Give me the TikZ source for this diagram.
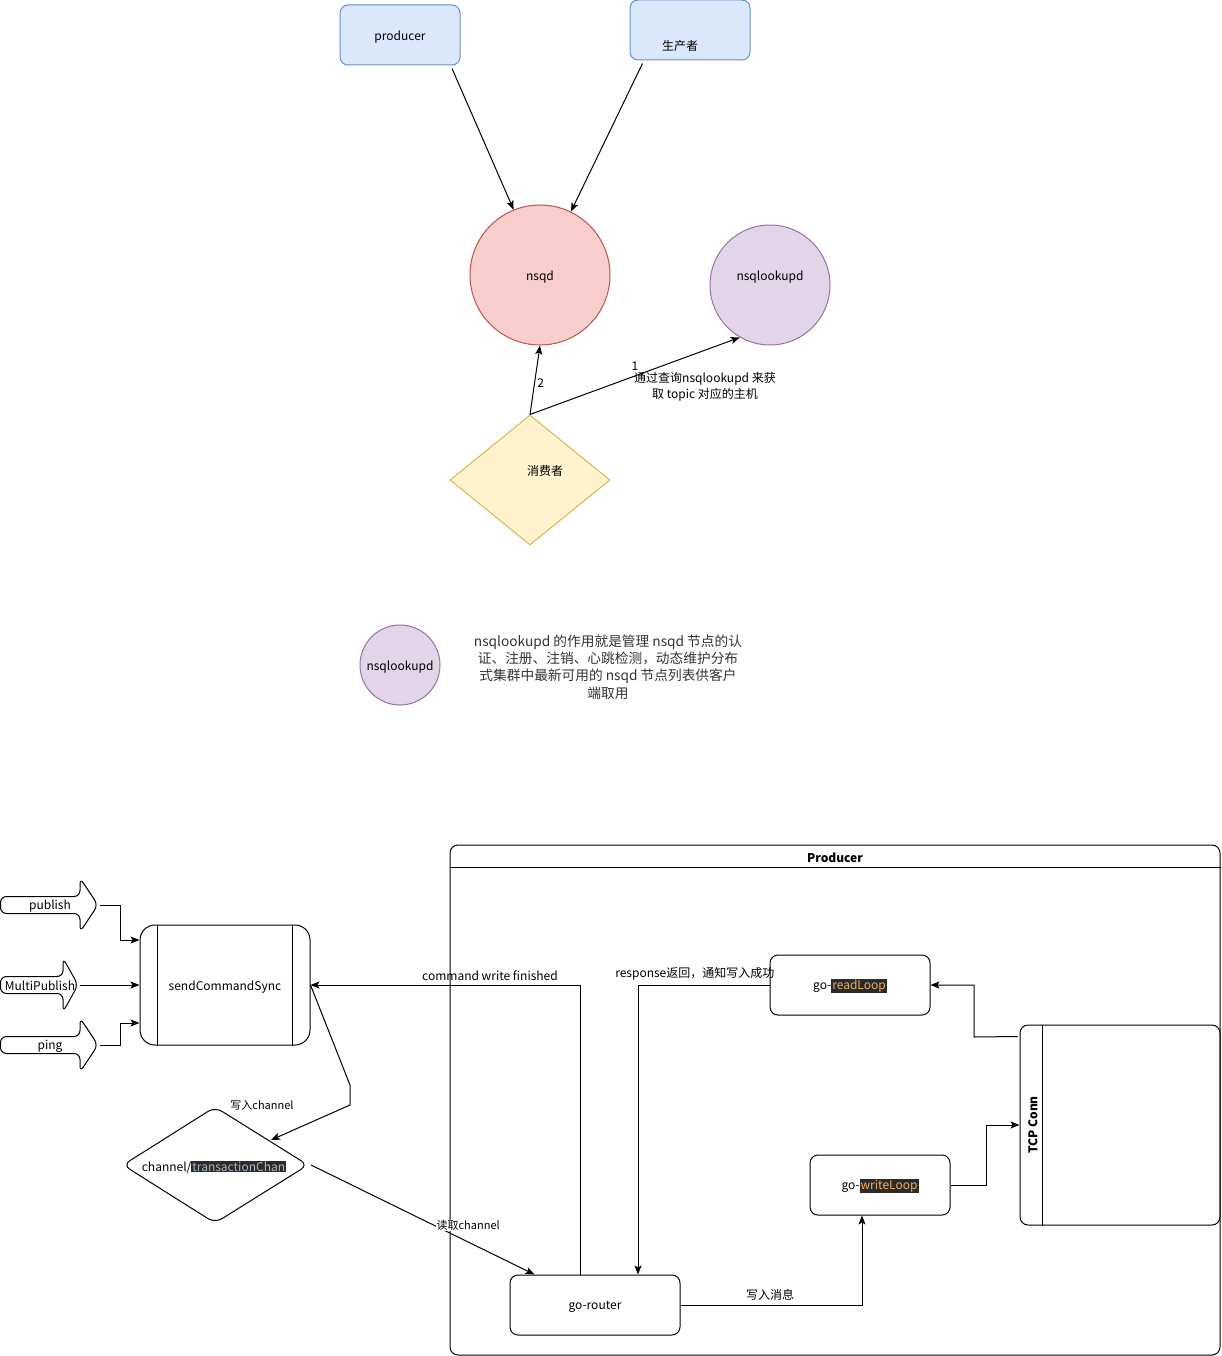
\documentclass[tikz,border=0pt]{standalone}
\usepackage{fontspec}
\setmainfont{Noto Sans CJK SC}
\usetikzlibrary{arrows.meta,calc,shapes.geometric}
\definecolor{bluef}{HTML}{DAE8FC}
\definecolor{blues}{HTML}{6C8EBF}
\definecolor{redf}{HTML}{F8CECC}
\definecolor{reds}{HTML}{B85450}
\definecolor{purf}{HTML}{E1D5E7}
\definecolor{purs}{HTML}{9673A6}
\definecolor{yelf}{HTML}{FFF2CC}
\definecolor{yels}{HTML}{D6B656}
\definecolor{codebg}{HTML}{2B2B2B}
\definecolor{codegray}{HTML}{A9B7C6}
\definecolor{codeorange}{HTML}{F0B25A}
\definecolor{paragray}{HTML}{333333}
\newcommand{\hlcode}[2]{{\setlength{\fboxsep}{1pt}\colorbox{codebg}{\textcolor{#1}{#2}}}}
\begin{document}
\begin{tikzpicture}[x=1pt,y=-1pt,line width=1pt,
  font=\fontsize{12pt}{15pt}\selectfont,
  bluebox/.style={draw=blues,fill=bluef,rounded corners=8pt,minimum width=120pt,minimum height=60pt,inner sep=0pt},
  rbox/.style={draw,rounded corners=8pt,inner sep=0pt},
  arr/.style={-{Stealth[length=9pt,width=7pt,inset=2pt]}},
  small/.style={font=\fontsize{11pt}{13pt}\selectfont},
  flex/.style={draw,rounded corners=6pt,line width=1pt}]
\useasboundingbox (0,0) rectangle (1221,1356);

% ---------- top part ----------
\node[bluebox,label={[yshift=-2pt]center:producer}] (prod) at (400,35) {};
\node[bluebox,label={[xshift=-10pt,yshift=-16pt]center:生产者}] (sc) at (690,30) {};
\node[circle,draw=reds,fill=redf,minimum size=140pt,inner sep=0pt,label={[yshift=-2pt]center:nsqd}] (nsqd) at (540,275) {};
\node[circle,draw=purs,fill=purf,minimum size=120pt,inner sep=0pt,label={[yshift=8pt]center:nsqlookupd}] (look) at (770,285) {};
\node[diamond,draw=yels,fill=yelf,minimum width=160pt,minimum height=130pt,inner sep=0pt,
      label={[xshift=15pt,yshift=9pt]center:消费者}] (cons) at (530,480) {};

\draw[arr] ($(prod.south)+(52,3)$) -- (nsqd.112);
\draw[arr] ($(sc.south west)+(13,3)$) -- (nsqd.64);
\draw[arr] (cons.north) -- node[pos=0.45,right=-1pt] {2} (nsqd.south);
\draw[arr] (cons.north) -- (look.240);
\node at (635,366) {1};
\node[align=center,font=\fontsize{12pt}{16pt}\selectfont] (lbl1) at (705,387) {通过查询nsqlookupd 来获\\取 topic 对应的主机};

\node[circle,draw=purs,fill=purf,minimum size=80pt,inner sep=0pt,label={[yshift=-2pt]center:nsqlookupd}] (look2) at (400,665) {};
\node[align=center,text=paragray,font=\fontsize{13.7pt}{17.3pt}\selectfont] (para) at (608,667)
  {nsqlookupd 的作用就是管理 nsqd 节点的认\\证、注册、注销、心跳检测，动态维护分布\\式集群中最新可用的 nsqd 节点列表供客户\\端取用};

% ---------- bottom part ----------
% Producer container
\node[rbox,minimum width=770pt,minimum height=510pt] (cont) at (835,1100) {};
\draw ($(cont.north west)+(0,23)$) -- ($(cont.north east)+(0,23)$);
\node[font=\fontsize{12pt}{15pt}\selectfont\bfseries] (conttitle) at (835,858) {Producer};

% sendCommandSync
\node[rbox,rounded corners=15pt,minimum width=170pt,minimum height=120pt,label={[yshift=-2pt]center:sendCommandSync}] (scs) at (225,985) {};
\draw ($(scs.north west)+(18,0)$) -- ($(scs.south west)+(18,0)$);
\draw ($(scs.north east)+(-18,0)$) -- ($(scs.south east)+(-18,0)$);

% flex arrows
\draw[flex] (0.5,896.5) -- (80,896.5) -- (80,878) -- (98,905) -- (80,932) -- (80,913.5) -- (0.5,913.5) -- cycle;
\node (pubtxt) at (50,906) {publish};
\coordinate (pub) at (100,905);
\draw[flex] (0.5,976.5) -- (63,976.5) -- (63,958) -- (78,985) -- (63,1012) -- (63,993.5) -- (0.5,993.5) -- cycle;
\node (mptxt) at (40,986) {MultiPublish};
\coordinate (mp) at (80,985);
\draw[flex] (0.5,1036.5) -- (80,1036.5) -- (80,1018) -- (98,1045) -- (80,1072) -- (80,1053.5) -- (0.5,1053.5) -- cycle;
\node (pingtxt) at (50,1046) {ping};
\coordinate (ping) at (100,1045);

\draw[arr] (pub) -- ++(20,0) |- ($(scs.west)+(0,-45)$);
\draw[arr] (mp) -- (scs.west);
\draw[arr] (ping) -- ++(20,0) |- ($(scs.west)+(0,38)$);

% channel diamond
\draw[rounded corners=8pt] (123,1165) -- (215,1107) -- (308,1165) -- (215,1223) -- cycle;
\node (chan) at (214,1167) {channel/\hlcode{codegray}{transactionChan}};
\coordinate (chanR) at (311,1165);
\coordinate (chanTR) at (271,1140);

% boxes inside producer
\node[rbox,minimum width=170pt,minimum height=60pt,label={[yshift=-2pt]center:go-router}] (router) at (595,1305) {};
\node[rbox,minimum width=160pt,minimum height=60pt,label={[yshift=-1pt]center:go-\hlcode{codeorange}{readLoop}}] (rl) at (850,985) {};
\node[rbox,minimum width=140pt,minimum height=60pt,label={[yshift=-1pt]center:go-\hlcode{codeorange}{writeLoop}}] (wl) at (880,1185) {};
\node[rbox,minimum width=200pt,minimum height=200pt] (tcp) at (1120,1125) {};
\draw ($(tcp.north west)+(23,0)$) -- ($(tcp.south west)+(23,0)$);
\node[rotate=90,font=\fontsize{12pt}{15pt}\selectfont\bfseries] (tcptxt) at (1033,1125) {TCP Conn};

% connectors
\draw[arr] (scs.east) -- (350,1085) -- (350,1105) -- (chanTR);
\node[small] (lblw) at (262,1105) {写入channel};
\draw[arr] (chanR) -- node[pos=0.56,small,fill=white,inner sep=0.5pt,xshift=32pt,yshift=1pt] {读取channel} ($(router.north west)+(25,0)$);
\draw[arr] ($(router.north)+(-15,0)$) |- node[pos=0.667,above=1pt] {command write finished} (scs.east);
\draw[arr] (rl.west) -| node[pos=0.284,above=1pt] {response返回，通知写入成功} ($(router.north)+(43,0)$);
\draw[arr] ($(tcp.north west)+(-2,12)$) -- (974,1037) |- (rl.east);
\draw[arr] (wl.east) -- ++(36,0) |- (tcp.west);
\draw[arr] (router.east) -| node[pos=0.247,above=1pt] {写入消息} ($(wl.south)+(-18,0)$);
\end{tikzpicture}
\end{document}
